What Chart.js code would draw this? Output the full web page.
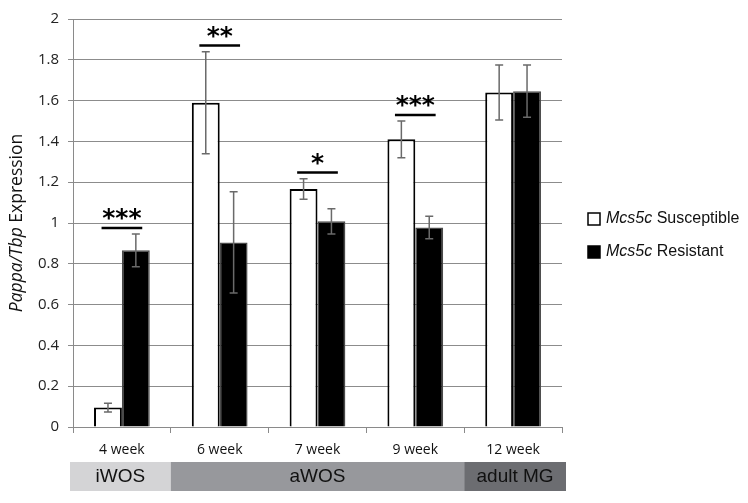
<!DOCTYPE html>
<html>
<head>
<meta charset="utf-8">
<script src="https://cdn.jsdelivr.net/npm/chart.js@4/dist/chart.umd.min.js"></script>
<style>
  html, body { margin: 0; padding: 0; background: #fff; }
  #wrap { width: 748px; height: 503px; }
</style>
</head>
<body>
<div id="wrap"><canvas id="exprChart" width="748" height="503"></canvas></div>
<script>
// ---------- DATA ----------
const weeks = ["4 week", "6 week", "7 week", "9 week", "12 week"];
const susceptible = [0.095, 1.59, 1.167, 1.41, 1.64];
const susceptibleErr = [0.022, 0.25, 0.05, 0.09, 0.135];
const resistant = [0.866, 0.905, 1.008, 0.978, 1.646];
const resistantErr = [0.08, 0.248, 0.062, 0.055, 0.128];
const stars = ["***", "**", "*", "***", ""];
const yTickLabels = ["0", "0.2", "0.4", "0.6", "0.8", "1", "1.2", "1.4", "1.6", "1.8", "2"];
const stageLabels = ["iWOS", "aWOS", "adult MG"];
const stageSpans = [1, 3, 1];

const stageColors = ["#d4d4d6", "#97989c", "#6c6d71"];
const errors = [susceptibleErr, resistantErr];
const values = [susceptible, resistant];

// ERROR BARS + SIGNIFICANCE
const extrasPlugin = {
    id: "extras",
    afterDatasetsDraw(chart) {
        const ctx = chart.ctx;
        const y = chart.scales.y;
        const x = chart.scales.x;

        ctx.save();
        ctx.strokeStyle = "#6a6a6a";
        ctx.lineWidth = 1.5;
        for (let d = 0; d < 2; d++) {
            const meta = chart.getDatasetMeta(d);
            meta.data.forEach((bar, i) => {
                const top = y.getPixelForValue(values[d][i] + errors[d][i]);
                const bot = y.getPixelForValue(values[d][i] - errors[d][i]);
                ctx.beginPath();
                ctx.moveTo(bar.x, top); ctx.lineTo(bar.x, bot);
                ctx.moveTo(bar.x - 4, top); ctx.lineTo(bar.x + 4, top);
                ctx.moveTo(bar.x - 4, bot); ctx.lineTo(bar.x + 4, bot);
                ctx.stroke();
            });
        }

        // stars
        const barW = chart.getDatasetMeta(0).data[0].width;
        ctx.strokeStyle = "#000";
        ctx.fillStyle = "#000";
        ctx.lineWidth = 2.5;
        ctx.font = "bold 25px 'DejaVu Sans'";
        ctx.textAlign = "center";
        ctx.textBaseline = "alphabetic";
        stars.forEach((s, i) => {
            if (!s) return;
            const top = Math.max(susceptible[i] + susceptibleErr[i], resistant[i] + resistantErr[i]) + 0.03;
            const ly = y.getPixelForValue(top);
            const xc = x.getPixelForValue(i);
            const half = barW * 0.73;
            ctx.beginPath();
            ctx.moveTo(xc - half, ly);
            ctx.lineTo(xc + half, ly);
            ctx.stroke();
            const m = ctx.measureText(s);
            const cy = ly - 13.5;
            const base = cy + (m.actualBoundingBoxAscent - m.actualBoundingBoxDescent) / 2;
            ctx.fillText(s, xc, base);
        });
        ctx.restore();
    },
    afterDraw(chart) {
        const ctx = chart.ctx;
        const x = chart.scales.x;
        const catW = x.getPixelForValue(1) - x.getPixelForValue(0);
        ctx.save();

        // stage bands
        let start = 0;
        stageLabels.forEach((lab, k) => {
            let left = x.getPixelForValue(start) - catW / 2;
            let right = x.getPixelForValue(start + stageSpans[k] - 1) + catW / 2;
            if (k === 0) left -= 3;
            if (k === stageLabels.length - 1) right += 4;
            ctx.fillStyle = stageColors[k];
            ctx.fillRect(left, 462, right - left, 29);
            ctx.fillStyle = "#111";
            ctx.font = "19px 'Liberation Sans'";
            ctx.textAlign = "center";
            ctx.textBaseline = "middle";
            ctx.fillText(lab, (left + right) / 2, 477);
            start += stageSpans[k];
        });

        // y title
        const parts = [
            ["Pappa/Tbp", "italic 17.5px 'Open Sans'"],
            [" Expression", "17.5px 'Open Sans'"]
        ];
        let total = 0;
        parts.forEach(p => { ctx.font = p[1]; total += ctx.measureText(p[0]).width; });
        ctx.translate(17, 223);
        ctx.rotate(-Math.PI / 2);
        ctx.textAlign = "left";
        ctx.textBaseline = "middle";
        ctx.fillStyle = "#111";
        let px = -total / 2;
        parts.forEach(p => {
            ctx.font = p[1];
            ctx.fillText(p[0], px, 0);
            px += ctx.measureText(p[0]).width;
        });
        ctx.setTransform(1, 0, 0, 1, 0, 0);

        // legend
        const rows = [
            { fill: "#fff", name: "Susceptible", cy: 219 },
            { fill: "#000", name: "Resistant", cy: 252 }
        ];
        rows.forEach(r => {
            ctx.fillStyle = r.fill;
            ctx.fillRect(588, r.cy - 6, 12, 12);
            ctx.strokeStyle = "#000";
            ctx.lineWidth = 1.5;
            ctx.strokeRect(588, r.cy - 6, 12, 12);
            ctx.fillStyle = "#111";
            ctx.textAlign = "left";
            ctx.textBaseline = "middle";
            ctx.font = "italic 16px 'Liberation Sans'";
            ctx.fillText("Mcs5c", 606, r.cy);
            const w = ctx.measureText("Mcs5c").width;
            ctx.font = "16px 'Liberation Sans'";
            ctx.fillText(" " + r.name, 606 + w, r.cy);
        });
        ctx.restore();
    }
};

const ctx = document.getElementById("exprChart").getContext("2d");

new Chart(ctx, {
    type: "bar",
    data: {
        labels: weeks,
        datasets: [{
            label: "Mcs5c Susceptible",
            data: susceptible,
            backgroundColor: "#ffffff",
            borderColor: "#000000",
            borderWidth: 2
        }, {
            label: "Mcs5c Resistant",
            data: resistant,
            backgroundColor: "#000000",
            borderColor: "#4a4a4a",
            borderWidth: 1.5
        }]
    },
    options: {
        responsive: false,
        animation: false,
        devicePixelRatio: 1,
        layout: { padding: { left: 0, right: 186, top: 19, bottom: 0 } },
        datasets: { bar: { categoryPercentage: 0.57, barPercentage: 1.0 } },
        plugins: {
            legend: { display: false },
            tooltip: { enabled: false }
        },
        scales: {
            x: {
                afterFit: (s) => { s.height = 76; },
                grid: { display: true, drawOnChartArea: false, drawTicks: true, tickLength: 6, color: "#8a8a8a", offset: true },
                border: { display: true, color: "#8a8a8a" },
                ticks: { color: "#111", font: { family: "'Open Sans'", size: 14 }, padding: 9 }
            },
            y: {
                min: 0,
                max: 2,
                afterFit: (s) => { s.width = 73; },
                grid: { color: "#8c8c8c", tickLength: 5 },
                border: { display: true, color: "#8a8a8a" },
                ticks: {
                    stepSize: 0.2,
                    color: "#222",
                    padding: 9,
                    font: { family: "'Open Sans'", size: 15 },
                    callback: (v, i) => yTickLabels[i]
                }
            }
        }
    },
    plugins: [extrasPlugin]
});
</script>
</body>
</html>
